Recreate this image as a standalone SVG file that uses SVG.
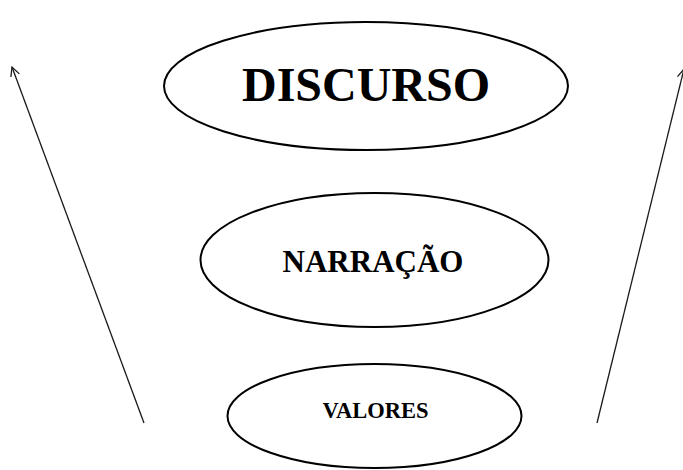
<svg xmlns="http://www.w3.org/2000/svg" width="683" height="470" viewBox="0 0 683 470">
<style>
.node ellipse{fill:#fff;stroke:#000;stroke-width:2}
.node text{font-family:"Liberation Serif","Times New Roman",serif;font-weight:bold;text-anchor:middle;fill:#000}
.conn line{stroke:#1a1a1a;stroke-width:1.3;fill:none}
</style>
<defs>
<marker id="ah" markerWidth="12" markerHeight="12" refX="10" refY="6" orient="auto" markerUnits="userSpaceOnUse">
<path d="M1,1.5 L10,6 L1,10.5" fill="none" stroke="#1a1a1a" stroke-width="1.3"/>
</marker>
</defs>
<rect width="683" height="470" fill="#fff"/>
<g class="conn">
<line x1="144" y1="423" x2="12" y2="67" marker-end="url(#ah)"/>
<line x1="597" y1="423" x2="684" y2="69" marker-end="url(#ah)"/>
</g>
<g id="discurso" class="node">
<ellipse cx="366" cy="86" rx="202" ry="64"/>
<text x="366" y="101" font-size="48">DISCURSO</text>
</g>
<g id="narracao" class="node">
<ellipse cx="374.5" cy="260" rx="174" ry="67"/>
<text x="373" y="272" font-size="31">NARRAÇÃO</text>
</g>
<g id="valores" class="node">
<ellipse cx="374.5" cy="416" rx="147" ry="52"/>
<text x="375.5" y="418" font-size="22.5">VALORES</text>
</g>
</svg>
